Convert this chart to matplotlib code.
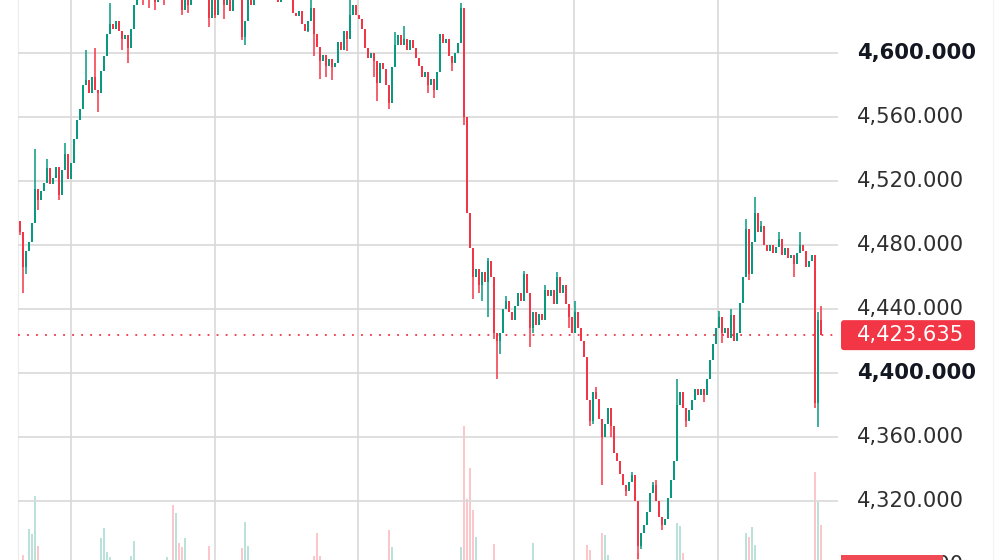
import matplotlib
matplotlib.use("Agg")
import matplotlib.pyplot as plt
from matplotlib import transforms
from matplotlib.patches import FancyBboxPatch, Rectangle
from matplotlib.lines import Line2D
import numpy as np

# ---------------- data ----------------
first_open = 4495.0
closes = [
    4488, 4466, 4476, 4482, 4494, 4515, 4508, 4514, 4519, 4528,
    4518, 4522, 4529, 4511, 4527, 4537, 4521, 4531, 4546, 4558,
    4565, 4580, 4583, 4575, 4585, 4577, 4575, 4589, 4598, 4612,
    4618, 4615, 4620, 4614, 4609, 4611, 4603, 4615, 4630, 4638,
    4642, 4636, 4640, 4634, 4640, 4632, 4638, 4642, 4635, 4641,
    4645, 4640, 4644, 4638, 4627, 4636, 4630, 4640, 4645, 4642,
    4646, 4640, 4636, 4622, 4633, 4624, 4636, 4640, 4630, 4638,
    4626, 4640, 4644, 4638, 4610, 4620, 4636, 4630, 4640, 4645,
    4642, 4648, 4644, 4640, 4645, 4637, 4632, 4642, 4646, 4643,
    4638, 4625, 4623, 4626, 4618, 4614, 4620, 4628, 4612, 4604,
    4595, 4599, 4592, 4596, 4591, 4594, 4607, 4602, 4614, 4609,
    4624, 4630, 4624, 4621, 4615, 4603, 4597, 4600, 4595, 4581,
    4594, 4590, 4580, 4569, 4591, 4605, 4611, 4605, 4609, 4602,
    4608, 4603, 4597, 4592, 4585, 4588, 4580, 4584, 4577, 4588,
    4612, 4606, 4609, 4598, 4594, 4600, 4606, 4628, 4560, 4500,
    4478, 4460, 4465, 4455, 4463, 4457, 4470, 4460, 4425, 4420,
    4425, 4440, 4445, 4438, 4433, 4442, 4450, 4445, 4462, 4450,
    4428, 4438, 4430, 4437, 4433, 4452, 4448, 4452, 4443, 4460,
    4450, 4455, 4443, 4435, 4425, 4438, 4428, 4420, 4410, 4383,
    4370, 4388, 4384, 4371, 4360, 4368, 4378, 4367, 4350, 4345,
    4337, 4330, 4326, 4332, 4336, 4320, 4292, 4300, 4305, 4313,
    4325, 4330, 4320, 4310, 4305, 4309, 4322, 4333, 4345, 4380,
    4388, 4378, 4370, 4377, 4383, 4390, 4386, 4390, 4386, 4396,
    4408, 4418, 4428, 4435, 4425, 4428, 4422, 4436, 4420, 4425,
    4444, 4460, 4490, 4462, 4482, 4500, 4488, 4492, 4480, 4476,
    4480, 4475, 4479, 4484, 4474, 4478, 4472, 4474, 4468, 4475,
    4480, 4476, 4466, 4470, 4474, 4381, 4433, 4423.635,
]

# candle index -> high / low (only candles whose wick extends beyond the body)
wick_highs = {
    5: 4540, 9: 4534, 15: 4544, 22: 4602, 25: 4603, 30: 4631, 97: 4634,
    110: 4633, 125: 4613, 128: 4617, 147: 4631, 156: 4472, 162: 4448,
    168: 4464, 175: 4455, 179: 4463, 185: 4445, 192: 4391, 204: 4338,
    211: 4332, 212: 4333, 219: 4396, 233: 4439, 237: 4440, 242: 4496,
    245: 4510, 247: 4495, 253: 4488, 260: 4488, 266: 4438, 267: 4442,
}
wick_lows = {
    0: 4486, 1: 4450, 2: 4462, 6: 4502, 13: 4508, 26: 4563, 34: 4602,
    36: 4594, 41: 4630, 43: 4628, 45: 4627, 48: 4630, 54: 4624, 56: 4625,
    63: 4616, 65: 4622, 68: 4621, 74: 4608, 75: 4605, 96: 4613, 98: 4598,
    100: 4584, 102: 4585, 104: 4583, 109: 4601, 118: 4585, 119: 4570,
    123: 4565, 136: 4575, 138: 4572, 144: 4589, 148: 4555, 151: 4446,
    153: 4450, 154: 4445, 156: 4435, 158: 4421, 159: 4396, 160: 4412,
    170: 4416, 171: 4425, 183: 4428, 190: 4367, 191: 4368, 194: 4330,
    197: 4360, 202: 4323, 206: 4284, 207: 4290, 214: 4302, 222: 4366,
    228: 4382, 234: 4419, 243: 4458, 258: 4460, 265: 4378, 266: 4366,
}

# candle index -> volume
volumes = {
    1: 5, 3: 31, 4: 26, 5: 64, 6: 14, 27: 22, 28: 32, 29: 8, 30: 3,
    37: 4, 38: 19, 49: 3, 51: 55, 52: 47, 53: 17, 54: 13, 55: 22,
    63: 14, 74: 12, 75: 38, 76: 14, 98: 4, 99: 27, 100: 4, 123: 30,
    124: 13, 147: 13, 148: 134, 149: 61, 150: 92, 151: 50, 152: 23,
    158: 16, 171: 17, 189: 15, 190: 10, 194: 27, 195: 25, 196: 5,
    206: 7, 219: 37, 220: 34, 221: 7, 242: 27, 243: 23, 244: 33,
    245: 15, 265: 88, 266: 58, 267: 35,
}

session_lines = [17, 65, 112.7, 184.7, 232.7]
price_levels = [4640, 4600, 4560, 4520, 4480, 4440, 4400, 4360, 4320, 4280]
bold_levels = [4600, 4400]
last_price = 4423.635

# ---------------- styling ----------------
W, H = 1001, 560
UP = "#089981"
DOWN = "#F23645"
GRID = "#d9d9d9"

n = len(closes)
idx = np.arange(n)
closes_a = np.array(closes, dtype=float)
opens_a = np.concatenate([[first_open], closes_a[:-1]])
highs_a = np.maximum(opens_a, closes_a)
lows_a = np.minimum(opens_a, closes_a)
for k, v in wick_highs.items():
    highs_a[k] = max(highs_a[k], v)
for k, v in wick_lows.items():
    lows_a[k] = min(lows_a[k], v)
up = closes_a >= opens_a
colors = np.where(up, UP, DOWN)

fig = plt.figure(figsize=(W / 100, H / 100), dpi=100)
fig.patch.set_facecolor("white")
left_px, right_px = 18, 838
rect = [left_px / W, 0, (right_px - left_px) / W, 1]

axv = fig.add_axes(rect)
ax = fig.add_axes(rect, sharex=axv)
ax.set_zorder(2)
axv.set_zorder(1)
for a in (ax, axv):
    a.set_axis_off()

px_per_idx = 3.0
xmin = -(20 - left_px) / px_per_idx
xmax = xmin + (right_px - left_px) / px_per_idx
ax.set_xlim(xmin, xmax)
ax.set_ylim(4283.1, 4633.1)
axv.set_ylim(0, 560)

# grid
for p in price_levels:
    ax.axhline(p, color=GRID, lw=1.2, zorder=0.5)
for s in session_lines:
    ax.axvline(s, color=GRID, lw=1.2, zorder=0.5)
fig.add_artist(Line2D([left_px / W] * 2, [0, 1], color="#ececec", lw=0.8))
fig.add_artist(Line2D([993 / W] * 2, [0, 1], color="#f3f3f3", lw=0.8))

# volume
vi = np.array(list(volumes.keys()))
vv = np.array(list(volumes.values()), dtype=float)
vcol = [UP if up[i] else DOWN for i in vi]
axv.bar(vi, vv, width=0.4, color=vcol, alpha=0.28, linewidth=0)

# price line
ax.axhline(last_price, color=DOWN, lw=1.3, linestyle=(0, (1, 4)), zorder=1)

# candles
ax.vlines(idx, lows_a, highs_a, colors=colors, lw=1.1, zorder=3)
body_h = np.maximum(np.abs(closes_a - opens_a), 0.6)
ax.bar(idx, body_h, bottom=np.minimum(opens_a, closes_a), width=0.95,
       color=colors, linewidth=0, zorder=3)

# price axis labels
trans = transforms.blended_transform_factory(fig.transFigure, ax.transData)
for p in price_levels:
    bold = p in bold_levels
    fig.text(857 / W, p, f"{p:,.3f}", transform=trans, va="center", ha="left",
             fontsize=15.2, family="DejaVu Sans",
             fontweight="bold" if bold else "normal",
             color="#131722" if bold else "#2f2f2f", zorder=3)

# last price tag
yc = ax.transData.transform((0, last_price))[1] / 100.0
tag = FancyBboxPatch((8.41, yc - 0.15), 1.34, 0.30,
                     boxstyle="round,pad=0,rounding_size=0.03",
                     transform=fig.dpi_scale_trans, facecolor=DOWN,
                     edgecolor="none", zorder=4)
fig.add_artist(tag)
fig.text(857 / W, last_price, f"{last_price:,.3f}", transform=trans,
         va="center", ha="left", fontsize=15.2, family="DejaVu Sans",
         color="white", zorder=5)

# partially visible bottom tag
fig.add_artist(Rectangle((8.41, -0.08), 1.02, 0.135, transform=fig.dpi_scale_trans,
                         facecolor="#f04a55", edgecolor="none", zorder=4))

fig.savefig("out.png", dpi=100)
